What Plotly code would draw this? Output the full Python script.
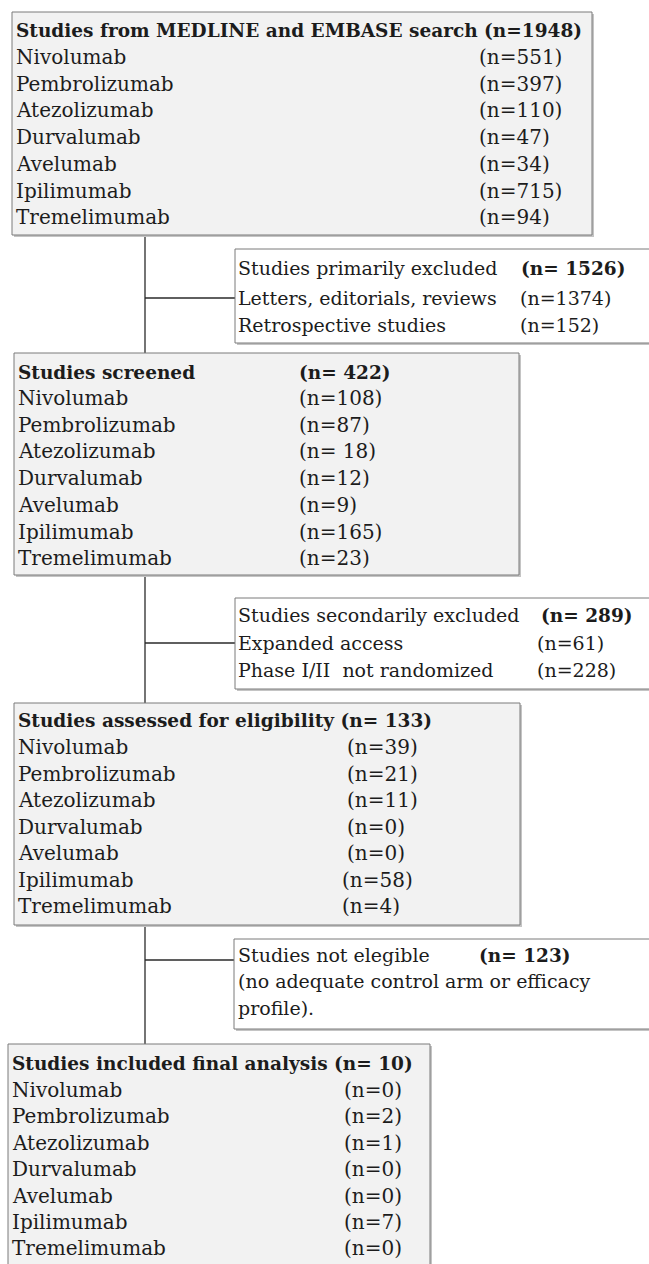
import plotly.graph_objects as go

# ---------------- data ----------------
drugs = ["Nivolumab", "Pembrolizumab", "Atezolizumab", "Durvalumab",
         "Avelumab", "Ipilimumab", "Tremelimumab"]

search_title = "Studies from MEDLINE and EMBASE search"
search_total = 1948
search_n = [551, 397, 110, 47, 34, 715, 94]

excl1_title = "Studies primarily excluded"
excl1_total = 1526
excl1_reasons = ["Letters, editorials, reviews", "Retrospective studies"]
excl1_n = [1374, 152]

screened_title = "Studies screened"
screened_total = 422
screened_n = [108, 87, 18, 12, 9, 165, 23]

excl2_title = "Studies secondarily excluded"
excl2_total = 289
excl2_reasons = ["Expanded access", "Phase I/II  not randomized"]
excl2_n = [61, 228]

eligible_title = "Studies assessed for eligibility"
eligible_total = 133
eligible_n = [39, 21, 11, 0, 0, 58, 4]

notelig_title = "Studies not elegible"
notelig_total = 123
notelig_note = ["(no adequate control arm or efficacy", "profile)."]

final_title = "Studies included final analysis"
final_total = 10
final_n = [0, 2, 1, 0, 0, 7, 0]

# ---------------- style ----------------
W, H = 649, 1264
FONT = "DejaVu Serif"
FS = 20
FS_EX = 19
FSB = 18.5
TXT = "#1c1c1c"
BORDER = "#7a7a7a"
SHADOW = "#c4c4c4"
GRAY_FILL = "#f2f2f2"
LINE = "#2a2a2a"

fig = go.Figure()
shapes = []
annotations = []


def box(x0, y0, x1, y1, fill):
    shapes.append(dict(type="rect", x0=x0 + 2, y0=y0 + 2, x1=x1 + 2, y1=y1 + 2,
                       line=dict(width=0), fillcolor=SHADOW, layer="below"))
    shapes.append(dict(type="rect", x0=x0, y0=y0, x1=x1, y1=y1,
                       line=dict(color=BORDER, width=1), fillcolor=fill, layer="below"))


def line(x0, y0, x1, y1):
    shapes.append(dict(type="line", x0=x0, y0=y0, x1=x1, y1=y1, layer="below",
                       line=dict(color=LINE, width=1.3)))


def text(x, y, s, bold=False, size=None):
    if bold:
        s = "<b>" + s + "</b>"
    if size is None:
        size = FSB if bold else FS
    annotations.append(dict(x=x, y=y, xref="x", yref="y", text=s, showarrow=False,
                            xanchor="left", yanchor="middle",
                            font=dict(family=FONT, size=size, color=TXT)))


def nlab(v, space=False):
    return "(n= %d)" % v if space else "(n=%d)" % v


# connectors (drawn first so boxes sit on top)
line(145, 235, 145, 1044)
line(145, 298, 235, 298)
line(145, 643, 235, 643)
line(145, 960, 235, 960)

# Box 1: search
box(12, 12, 592, 235, GRAY_FILL)
text(14, 30, search_title + " " + nlab(search_total), bold=True)
for i, (d, v) in enumerate(zip(drugs, search_n)):
    y = 57 + i * 26.7
    text(14, y, d)
    text(477, y, nlab(v))

# Box 2: primary exclusion
box(235, 249, 660, 343, "white")
text(236, 268, excl1_title, size=FS_EX)
text(519, 268, nlab(excl1_total, True), bold=True)
for i, (r, v) in enumerate(zip(excl1_reasons, excl1_n)):
    y = 298 + i * 26.7
    text(236, y, r, size=FS_EX)
    text(518, y, nlab(v), size=FS_EX)

# Box 3: screened
box(14, 353, 519, 575, GRAY_FILL)
text(16, 372, screened_title, bold=True)
text(297, 372, nlab(screened_total, True), bold=True)
for i, (d, v) in enumerate(zip(drugs, screened_n)):
    y = 398 + i * 26.7
    text(16, y, d)
    text(297, y, "(n= %d)" % v if i == 2 else nlab(v))

# Box 4: secondary exclusion
box(235, 598, 660, 689, "white")
text(236, 615, excl2_title, size=FS_EX)
text(539, 615, nlab(excl2_total, True), bold=True)
for i, (r, v) in enumerate(zip(excl2_reasons, excl2_n)):
    y = 643 + i * 26.7
    text(236, y, r, size=FS_EX)
    text(535, y, nlab(v), size=FS_EX)

# Box 5: eligibility
box(14, 703, 520, 925, GRAY_FILL)
text(16, 720, eligible_title + " " + nlab(eligible_total, True), bold=True)
for i, (d, v) in enumerate(zip(drugs, eligible_n)):
    y = 747 + i * 26.5
    text(16, y, d)
    text(345 if i < 5 else 340, y, nlab(v))

# Box 6: not eligible
box(234, 939, 660, 1029, "white")
text(236, 955, notelig_title, size=FS_EX)
text(477, 955, nlab(notelig_total, True), bold=True)
for i, s in enumerate(notelig_note):
    text(236, 981 + i * 27, s, size=FS_EX)

# Box 7: final analysis
box(8, 1044, 430, 1275, GRAY_FILL)
text(10, 1063, final_title + " " + nlab(final_total, True), bold=True)
for i, (d, v) in enumerate(zip(drugs, final_n)):
    y = 1090 + i * 26.4
    text(10, y, d)
    text(342, y, nlab(v))

fig.update_layout(
    width=W, height=H,
    margin=dict(l=0, r=0, t=0, b=0),
    paper_bgcolor="white", plot_bgcolor="white",
    xaxis=dict(range=[0, W], visible=False, fixedrange=True),
    yaxis=dict(range=[H, 0], visible=False, fixedrange=True),
    shapes=shapes, annotations=annotations, showlegend=False,
)
fig.write_html("out.html", config={"displayModeBar": False},
               post_script="document.body.style.margin='0';document.body.style.overflow='hidden';")
